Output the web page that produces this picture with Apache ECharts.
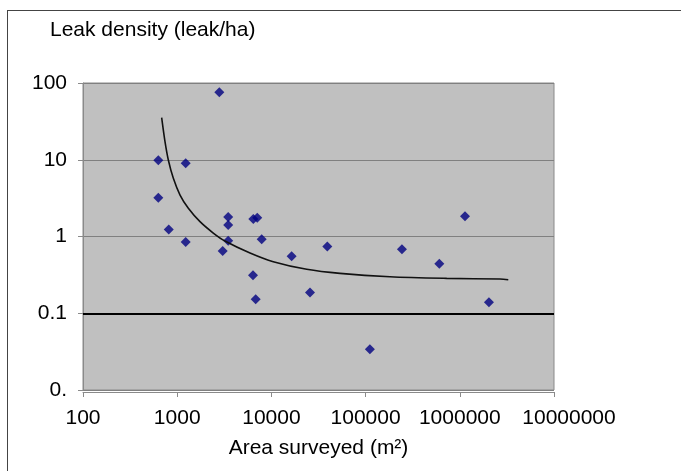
<!DOCTYPE html>
<html>
<head>
<meta charset="utf-8">
<script src="https://cdn.jsdelivr.net/npm/echarts@6/dist/echarts.min.js"></script>
<style>
html,body{margin:0;padding:0;background:#fff;}
#chart{width:681px;height:471px;}
</style>
</head>
<body>
<div id="chart"></div>
<script>
// Survey points: area surveyed (m2) and leak density (leak/ha)
const areaX = [2800, 630, 1230, 630, 813, 1230, 3480, 3480, 3480, 3040, 6430, 7080, 7890, 16400, 6380, 6810, 25700, 39200, 1135000, 243000, 606000, 2040000, 111000];
const leakY = [75.7, 9.84, 9.0, 3.2, 1.23, 0.85, 1.79, 1.41, 0.88, 0.647, 1.69, 1.76, 0.92, 0.552, 0.312, 0.152, 0.187, 0.741, 1.83, 0.681, 0.443, 0.139, 0.0339];

// Trend curve
const trendX = [684, 742, 805, 910, 1072, 1313, 1746, 2415, 3213, 5930, 10470, 23700, 53500, 181500, 726000, 2670000, 3270000];
const trendY = [35.3, 17.2, 9.93, 5.73, 3.47, 2.33, 1.56, 1.11, 0.874, 0.61, 0.47, 0.374, 0.331, 0.299, 0.285, 0.279, 0.273];

// Reference threshold line
const thresholdY = 0.1;

// Axis tick labels
const xTickLabels = ['100', '1000', '10000', '100000', '1000000', '10000000'];
const yTickLabels = ['0.', '0.1', '1', '10', '100'];

const yTitle = 'Leak density (leak/ha)';
const xTitle = 'Area surveyed (m\u00B2)';

const FONT = '"Liberation Sans", Arial, sans-serif';

const chart = echarts.init(document.getElementById('chart'), null, {renderer: 'canvas'});

const points = areaX.map((x, i) => [x, leakY[i]]);
const trend = trendX.map((x, i) => [x, trendY[i]]);

chart.setOption({
  animation: false,
  backgroundColor: '#ffffff',
  title: {
    text: yTitle,
    left: 50,
    top: 20,
    padding: 0,
    textStyle: {fontFamily: FONT, fontSize: 21, fontWeight: 'normal', color: '#000'}
  },
  graphic: [
    {type: 'line', shape: {x1: 7, y1: 10.5, x2: 681, y2: 10.5}, style: {stroke: '#444', lineWidth: 1}, silent: true},
    {type: 'line', shape: {x1: 7.5, y1: 10, x2: 7.5, y2: 471}, style: {stroke: '#444', lineWidth: 1}, silent: true}
  ],
  grid: {
    left: 83, right: 127, top: 83, bottom: 81,
    show: true,
    backgroundColor: '#c0c0c0',
    borderColor: '#8a8a8a',
    borderWidth: 1
  },
  xAxis: {
    type: 'log',
    logBase: 10,
    min: 100,
    max: 10000000,
    offset: 2,
    name: xTitle,
    nameLocation: 'middle',
    nameGap: 46,
    nameTextStyle: {fontFamily: FONT, fontSize: 21, color: '#000'},
    axisLine: {show: true, lineStyle: {color: '#8a8a8a', width: 1}},
    axisTick: {show: true, length: 5, lineStyle: {color: '#8a8a8a'}},
    minorTick: {show: false},
    splitLine: {show: false},
    axisLabel: {
      fontFamily: FONT, fontSize: 21, color: '#000', margin: 16,
      formatter: function (v) {
        const i = Math.round(Math.log10(v)) - 2;
        const t = xTickLabels[i] !== undefined ? xTickLabels[i] : '';
        return i === xTickLabels.length - 1 ? '{r|' + t + '}' : t;
      },
      rich: {r: {fontFamily: FONT, fontSize: 21, color: '#000', padding: [0, 0, 0, 30]}}
    }
  },
  yAxis: {
    type: 'log',
    logBase: 10,
    min: 0.01,
    max: 100,
    axisLine: {show: true, lineStyle: {color: '#8a8a8a', width: 1}},
    axisTick: {show: true, length: 5, lineStyle: {color: '#8a8a8a'}},
    minorTick: {show: false},
    splitLine: {show: true, lineStyle: {color: '#808080', width: 1}},
    axisLabel: {
      fontFamily: FONT, fontSize: 21, color: '#000', margin: 16,
      formatter: function (v) {
        const i = Math.round(Math.log10(v)) + 2;
        return yTickLabels[i] !== undefined ? yTickLabels[i] : '';
      }
    }
  },
  series: [
    {
      type: 'line',
      name: 'threshold',
      data: [],
      markLine: {
        silent: true,
        symbol: ['none', 'none'],
        label: {show: false},
        lineStyle: {color: '#000', width: 2, type: 'solid'},
        data: [{yAxis: thresholdY}]
      }
    },
    {
      type: 'scatter',
      name: 'leaks',
      data: points,
      symbol: 'diamond',
      symbolSize: 10,
      itemStyle: {color: '#000080'},
      z: 3
    },
    {
      type: 'line',
      name: 'trend',
      data: trend,
      smooth: 0.3,
      showSymbol: false,
      symbol: 'none',
      lineStyle: {color: '#111', width: 1.6},
      z: 4
    }
  ]
});
</script>
</body>
</html>
